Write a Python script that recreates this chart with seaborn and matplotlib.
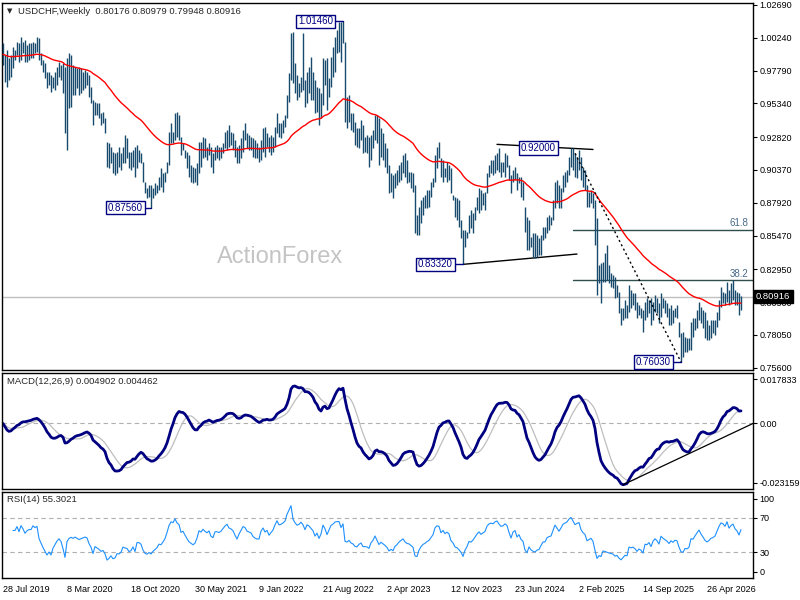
import numpy as np
import pandas as pd
import matplotlib
matplotlib.use("Agg")
import matplotlib.pyplot as plt
import matplotlib.transforms as mtransforms
import seaborn as sns

# ---------------- data (weekly USDCHF bars) ----------------
highs = [
    .9982, .9895, .9932, .9870, .9895, .9957, .9932, .9995, .9982, 1.0032,
    .9995, 1.0007, .9970, .9982, .9982, .9995, .9982, 1.0032, 1.0020, .9908,
    .9858, .9833, .9771, .9771, .9746, .9733, .9771, .9808, .9845, .9820,
    .9833, .9808, .9870, .9908, .9895, .9820, .9808, .9796, .9808, .9796,
    .9771, .9783, .9771, .9746, .9659, .9559, .9547, .9534, .9534, .9459,
    .9472, .9422, .9248, .9235, .9210, .9173, .9161, .9173, .9210, .9161,
    .9210, .9298, .9273, .9173, .9173, .9185, .9210, .9223, .9185, .9161,
    .9098, .8949, .8899, .8924, .8924, .8899, .8936, .8924, .8986, .9049,
    .9011, .9024, .9098, .9322, .9385, .9322, .9459, .9472, .9447, .9285,
    .9235, .9185, .9173, .9148, .9073, .9061, .9049, .9086, .9248, .9248,
    .9285, .9273, .9210, .9235, .9210, .9161, .9210, .9223, .9210, .9210,
    .9235, .9322, .9335, .9372, .9322, .9310, .9260, .9210, .9223, .9273,
    .9335, .9385, .9310, .9298, .9285, .9273, .9260, .9235, .9210, .9260,
    .9347, .9360, .9310, .9285, .9298, .9285, .9360, .9459, .9385, .9385,
    .9410, .9447, .9596, .9758, 1.0057, 1.0069, .9833, .9746, .9683, .9733,
    1.0057, .9708, .9771, .9808, .9883, .9771, .9708, .9659, .9646, .9609,
    .9870, .9858, .9870, .9721, .9883, .9957, 1.0032, 1.0082, 1.0144, 1.0144,
    1.0146, .9995, .9584, .9596, .9459, .9459, .9397, .9347, .9347, .9410,
    .9372, .9285, .9298, .9285, .9298, .9335, .9447, .9447, .9422, .9347,
    .9310, .9235, .9198, .9073, .9011, .8999, .9011, .9036, .9073, .9098,
    .9148, .9161, .9111, .9024, .9024, .9011, .8924, .8700, .8762, .8812,
    .8837, .8849, .8887, .8887, .8949, .8974, .9148, .9210, .9248, .9123,
    .9111, .9049, .9098, .9073, .9049, .8849, .8837, .8824, .8812, .8663,
    .8588, .8588, .8575, .8700, .8737, .8712, .8762, .8837, .8899, .8887,
    .8862, .8874, .9011, .9073, .9111, .9111, .9148, .9161, .9200, .9098,
    .9098, .9161, .9148, .9073, .8999, .9036, .9061, .9011, .8986, .8986,
    .8949, .8762, .8687, .8663, .8538, .8563, .8563, .8551, .8526, .8551,
    .8613, .8613, .8687, .8700, .8687, .8812, .8949, .8961, .8924, .8899,
    .8999, .9024, .9036, .9136, .9198, .9198, .9161, .9136, .9185, .9136,
    .9061, .9036, .8924, .8874, .8887, .8862, .8812, .8675, .8326, .8339,
    .8351, .8414, .8476, .8326, .8264, .8252, .8239, .8177, .8127, .8003,
    .8003, .8065, .8028, .8177, .8140, .8115, .8115, .8053, .8028, .8003,
    .7990, .8053, .8077, .8065, .8077, .8053, .8102, .8077, .8040, .8115,
    .8077, .8065, .8040, .8003, .8028, .7990, .8003, .8028, .7903, .7816,
    .7828, .7791, .7779, .7779, .7903, .7928, .7928, .7990, .8053, .8015,
    .7990, .7978, .7916, .7878, .7916, .7916, .7916, .7978, .8065, .8165,
    .8127, .8115, .8202, .8140, .8189, .8214, .8140, .8127, .8115, .80979,
]
lows = [
    .9820, .9696, .9659, .9708, .9733, .9796, .9858, .9895, .9845, .9858,
    .9908, .9845, .9845, .9858, .9870, .9870, .9908, .9920, .9858, .9820,
    .9771, .9721, .9646, .9671, .9621, .9646, .9634, .9671, .9733, .9708,
    .9609, .9310, .9185, .9497, .9509, .9596, .9596, .9646, .9596, .9609,
    .9634, .9646, .9671, .9584, .9534, .9372, .9447, .9447, .9422, .9372,
    .9385, .9310, .9061, .9049, .9086, .9011, .8999, .9011, .9061, .9036,
    .9086, .9086, .9123, .9049, .9036, .9061, .8986, .9049, .9098, .9086,
    .8949, .8862, .8824, .8837, .8756, .8824, .8849, .8862, .8887, .8912,
    .8874, .8949, .9011, .9073, .9235, .9235, .9260, .9285, .9260, .9148,
    .9185, .9123, .9049, .8986, .8949, .8936, .8949, .8924, .9011, .9061,
    .9123, .9136, .9111, .9148, .9061, .9011, .9111, .9123, .9111, .9123,
    .9161, .9198, .9185, .9210, .9223, .9185, .9136, .9086, .9086, .9123,
    .9173, .9260, .9198, .9185, .9185, .9136, .9123, .9123, .9098, .9111,
    .9173, .9136, .9210, .9173, .9148, .9173, .9210, .9310, .9285, .9273,
    .9310, .9360, .9422, .9547, .9708, .9683, .9609, .9559, .9584, .9621,
    .9634, .9509, .9534, .9609, .9559, .9559, .9459, .9472, .9372, .9422,
    .9522, .9671, .9484, .9584, .9659, .9733, .9771, .9908, .9920, .9845,
    .9982, .9397, .9347, .9397, .9335, .9322, .9223, .9210, .9198, .9260,
    .9161, .9173, .9161, .9061, .9111, .9198, .9260, .9235, .9073, .9136,
    .9111, .9061, .9011, .8862, .8874, .8824, .8899, .8924, .8949, .8961,
    .9011, .8986, .8936, .8949, .8899, .8874, .8563, .8551, .8551, .8638,
    .8700, .8750, .8750, .8762, .8837, .8912, .8949, .9049, .9123, .8986,
    .8949, .8986, .8949, .8961, .8862, .8812, .8687, .8663, .8613, .8526,
    .8332, .8463, .8526, .8563, .8600, .8563, .8663, .8737, .8712, .8737,
    .8775, .8737, .8862, .8986, .9011, .8999, .9011, .9036, .9024, .8986,
    .9024, .8986, .9061, .8961, .8862, .8949, .8961, .8887, .8936, .8837,
    .8812, .8575, .8438, .8438, .8463, .8389, .8376, .8389, .8401, .8401,
    .8513, .8526, .8563, .8588, .8625, .8663, .8750, .8787, .8750, .8750,
    .8874, .8912, .8949, .8999, .9061, .9036, .8986, .8974, .9036, .8961,
    .8912, .8887, .8762, .8762, .8787, .8750, .8476, .8102, .8189, .8040,
    .8202, .8202, .8214, .8189, .8165, .8152, .8077, .8090, .7965, .7878,
    .7916, .7928, .7928, .7978, .8003, .8028, .7990, .7928, .7953, .7928,
    .7828, .7916, .7941, .7965, .7878, .7916, .7978, .7965, .7891, .7941,
    .8003, .7965, .7941, .7878, .7878, .7891, .7941, .7928, .7791, .7603,
    .7642, .7679, .7679, .7692, .7692, .7791, .7841, .7853, .7916, .7891,
    .7853, .7779, .7766, .7766, .7779, .7816, .7804, .7866, .7916, .8015,
    .8040, .8028, .8053, .8028, .8040, .8065, .8028, .8028, .7953, .79948,
]
closes = [
    .9900, .9760, .9720, .9770, .9840, .9900, .9900, .9930, .9900, .9950,
    .9930, .9900, .9920, .9930, .9930, .9960, .9950, .9960, .9880, .9840,
    .9790, .9740, .9680, .9700, .9650, .9700, .9730, .9760, .9780, .9750,
    .9650, .9450, .9650, .9700, .9720, .9700, .9720, .9700, .9680, .9690,
    .9700, .9710, .9700, .9620, .9560, .9420, .9500, .9470, .9440, .9390,
    .9400, .9320, .9100, .9120, .9150, .9040, .9050, .9100, .9090, .9110,
    .9170, .9150, .9140, .9070, .9080, .9120, .9020, .9130, .9130, .9100,
    .8970, .8880, .8850, .8870, .8830, .8860, .8880, .8900, .8940, .8930,
    .8960, .9000, .9080, .9200, .9280, .9270, .9360, .9310, .9290, .9180,
    .9200, .9140, .9080, .9020, .8990, .8960, .8980, .9050, .9170, .9150,
    .9200, .9170, .9150, .9180, .9100, .9080, .9170, .9170, .9160, .9180,
    .9220, .9260, .9290, .9250, .9240, .9220, .9170, .9120, .9180, .9230,
    .9290, .9280, .9240, .9230, .9220, .9180, .9160, .9150, .9150, .9230,
    .9270, .9230, .9250, .9200, .9230, .9260, .9330, .9400, .9360, .9370,
    .9390, .9420, .9560, .9700, .9900, .9720, .9660, .9620, .9640, .9700,
    .9660, .9580, .9700, .9680, .9640, .9600, .9500, .9560, .9450, .9540,
    .9780, .9700, .9560, .9690, .9850, .9900, .9980, 1.0000, 1.0000, .9880,
    1.0000, .9480, .9450, .9500, .9400, .9360, .9260, .9240, .9300, .9330,
    .9200, .9200, .9190, .9140, .9250, .9300, .9400, .9280, .9150, .9200,
    .9150, .9100, .9030, .8900, .8930, .8880, .8960, .8990, .9040, .9070,
    .9100, .9030, .8990, .8980, .8940, .8900, .8600, .8580, .8680, .8740,
    .8780, .8800, .8830, .8850, .8900, .8950, .9100, .9150, .9140, .9030,
    .9080, .9020, .9050, .9020, .8880, .8830, .8720, .8700, .8640, .8560,
    .8400, .8500, .8560, .8660, .8640, .8680, .8740, .8800, .8850, .8800,
    .8830, .8860, .8980, .9040, .9060, .9050, .9100, .9120, .9080, .9050,
    .9060, .9100, .9080, .8990, .8900, .9000, .9030, .8920, .8960, .8870,
    .8830, .8600, .8500, .8600, .8500, .8450, .8420, .8450, .8460, .8520,
    .8580, .8580, .8650, .8670, .8680, .8780, .8900, .8850, .8800, .8870,
    .8960, .8990, .9020, .9100, .9150, .9100, .9050, .9080, .9100, .9000,
    .8950, .8920, .8800, .8820, .8840, .8780, .8550, .8200, .8250, .8200,
    .8300, .8280, .8250, .8220, .8200, .8180, .8100, .8110, .8000, .7920,
    .7950, .7980, .7960, .8080, .8060, .8070, .8030, .7960, .7990, .7960,
    .7880, .8000, .7990, .8020, .7930, .8010, .8050, .8010, .7940, .8070,
    .8030, .8000, .7970, .7920, .7960, .7930, .7960, .7950, .7820, .7700,
    .7680, .7730, .7720, .7740, .7860, .7850, .7900, .7950, .8000, .7940,
    .7890, .7830, .7800, .7820, .7850, .7860, .7880, .7950, .8030, .8100,
    .8090, .8060, .8150, .8070, .8120, .8150, .8090, .8060, .8000, .80916,
]
assert len(highs) == len(lows) == len(closes), (len(highs), len(lows), len(closes))

date_labels = ["28 Jul 2019", "8 Mar 2020", "18 Oct 2020", "30 May 2021", "9 Jan 2022",
               "21 Aug 2022", "2 Apr 2023", "12 Nov 2023", "23 Jun 2024", "2 Feb 2025",
               "14 Sep 2025", "26 Apr 2026"]
date_step = 32
price_ticks = [1.02690, 1.00240, 0.97790, 0.95340, 0.92820, 0.90370, 0.87920,
               0.85470, 0.82950, 0.80500, 0.78050, 0.75600]
header = "USDCHF,Weekly  0.80176 0.80979 0.79948 0.80916"
macd_title = "MACD(12,26,9) 0.004902 0.004462"
rsi_title = "RSI(14) 55.3021"
macd_range = (-0.023159, 0.017833)

# swing labels: (bar index, price, side)
swings = [(170, 1.01460, "L"), (74, 0.87560, "L"), (230, 0.83320, "L"),
          (248, 0.92000, "R"), (339, 0.76030, "L")]
fib_high, fib_low, fib_start = 0.92000, 0.76030, 285
fib_ratios = [0.382, 0.618]
top_line = [(247, 0.9228), (295, 0.9190)]
bottom_line = [(230, 0.8332), (287, 0.8409)]
dotted_line = [286, 339]

# ---------------- indicators ----------------
n = len(closes)
idx = np.arange(n)
s = pd.Series(closes)
ema55 = s.ewm(span=55, adjust=False).mean()
macd = s.ewm(span=12, adjust=False).mean() - s.ewm(span=26, adjust=False).mean()
signal = macd.rolling(9, min_periods=1).mean()
delta = s.diff()
gain = delta.clip(lower=0).ewm(alpha=1 / 14, adjust=True, min_periods=5).mean()
loss = (-delta.clip(upper=0)).ewm(alpha=1 / 14, adjust=True, min_periods=5).mean()
rsi = 100 - 100 / (1 + gain / loss)
df = pd.DataFrame({"i": idx, "ema": ema55, "macd": macd, "signal": signal, "rsi": rsi})

# ---------------- figure ----------------
sns.set_style("white")
plt.rcParams["font.family"] = ["Liberation Sans", "DejaVu Sans"]
W, H = 800, 600
fig = plt.figure(figsize=(8, 6), dpi=100)


def box(top, bottom, left=2, right=753):
    return [left / W, 1 - bottom / H, (right - left) / W, (bottom - top) / H]


ax = fig.add_axes(box(2.7, 370))
axm = fig.add_axes(box(373, 489))
axr = fig.add_axes(box(492, 578))

XL = (-0.5, 375)
BAR = "#174A6C"
NAVY = "#000080"
FS = 6.5

for a in (ax, axm, axr):
    a.set_xlim(*XL)
    for sp in a.spines.values():
        sp.set_color("black")
        sp.set_linewidth(1.0)
    a.yaxis.tick_right()
    a.tick_params(axis="y", length=3, width=0.8, pad=1.5, labelsize=FS, colors="black")

# --- price panel ---
ax.set_ylim(0.7543, 1.0286)
ax.axhline(closes[-1], color="#C0C0C0", lw=1, zorder=1)
ax.vlines(idx, lows, highs, color=BAR, lw=1.0, zorder=3)
sns.lineplot(data=df, x="i", y="ema", ax=ax, color="#FF0000", lw=1.0, zorder=4)
ax.set_yticks(price_ticks)
ax.set_yticklabels([f"{v:.5f}" for v in price_ticks])
ax.set_xticks([])
ax.set_xlabel("")
ax.set_ylabel("")
ax.text(0.37, 0.308, "ActionForex", transform=ax.transAxes, fontsize=17,
        color="#C4C4C4", ha="center", va="center", zorder=2)

# fib lines
for r in fib_ratios:
    lvl = fib_low + r * (fib_high - fib_low)
    ax.plot([fib_start, XL[1]], [lvl, lvl], color="#2F4F4F", lw=1, zorder=2)
    ax.text(372.5, lvl + 0.0012, f"{r * 100:.1f}", fontsize=FS + 0.5, color="#4A6A8A",
            ha="right", va="bottom")

# trend lines
ax.plot([p[0] for p in top_line], [p[1] for p in top_line], color="black", lw=1, zorder=2)
ax.plot([p[0] for p in bottom_line], [p[1] for p in bottom_line], color="black", lw=1, zorder=2)
ax.plot([dotted_line[0], dotted_line[1]], [highs[dotted_line[0]], lows[dotted_line[1]]],
        color="black", lw=1, ls=(0, (1.5, 2.0)), zorder=5)

# swing labels
for bi, price, side in swings:
    if side == "L":
        x_text = bi - (4 if bi == 74 else 5)
        ax.plot([x_text, bi], [price, price], color=NAVY, lw=1, zorder=5)
        ha = "right"
    else:
        x_text = bi + 11
        ha = "left"
    ax.text(x_text, price, f"{price:.5f}", fontsize=FS + 0.5, color=NAVY, ha=ha, va="center",
            zorder=6, bbox=dict(boxstyle="square,pad=0.18", fc="white", ec=NAVY, lw=1))

# current price tag
trans = mtransforms.blended_transform_factory(ax.transAxes, ax.transData)
ax.text(1.004, closes[-1], f"{closes[-1]:.5f}", transform=trans, fontsize=FS + 0.3,
        color="white", ha="left", va="center", clip_on=False, zorder=10,
        bbox=dict(boxstyle="square,pad=0.25", fc="black", ec="black"))

# --- MACD panel ---
axm.set_ylim(*macd_range)
axm.axhline(0, color="#B0B0B0", lw=0.8, ls=(0, (4, 3)))
sns.lineplot(data=df, x="i", y="signal", ax=axm, color="#BEBEBE", lw=0.9)
sns.lineplot(data=df, x="i", y="macd", ax=axm, color=NAVY, lw=2.0)
tmin = int(np.argmin(macd.values))
axm.plot([tmin, XL[1]], [macd.values[tmin], 0.0], color="black", lw=0.9)
span = macd_range[1] - macd_range[0]
axm.set_yticks([macd_range[1] - span * 0.055, 0.0, macd_range[0] + span * 0.055])
axm.set_yticklabels([f"{macd_range[1]:.6f}", "0.00", f"{macd_range[0]:.6f}"])
axm.set_xticks([])
axm.set_xlabel("")
axm.set_ylabel("")

# --- RSI panel ---
axr.set_ylim(0, 100)
for lv in (30, 70):
    axr.axhline(lv, color="#B0B0B0", lw=0.8, ls=(0, (4, 3)))
sns.lineplot(data=df, x="i", y="rsi", ax=axr, color="#1E90FF", lw=0.8)
axr.set_yticks([92.4, 70, 30, 7.0])
axr.set_yticklabels(["100", "70", "30", "0"])
xt = [k * date_step for k in range(len(date_labels))]
axr.set_xticks(xt)
axr.set_xticklabels(date_labels, ha="left", fontsize=FS)
axr.tick_params(axis="x", length=3, width=0.8, pad=2, colors="black")
axr.set_xlabel("")
axr.set_ylabel("")

# titles
fig.text(10 / W, 1 - 11 / H, "\u25BC", fontsize=5, ha="center", va="center", family="DejaVu Sans")
fig.text(18 / W, 1 - 11 / H, header, fontsize=FS + 0.3, ha="left", va="center")
fig.text(7 / W, 1 - 381 / H, macd_title, fontsize=FS + 0.3, ha="left", va="center")
fig.text(7 / W, 1 - 500 / H, rsi_title, fontsize=FS + 0.3, ha="left", va="center")

fig.savefig("out.png", dpi=100, facecolor="white")
